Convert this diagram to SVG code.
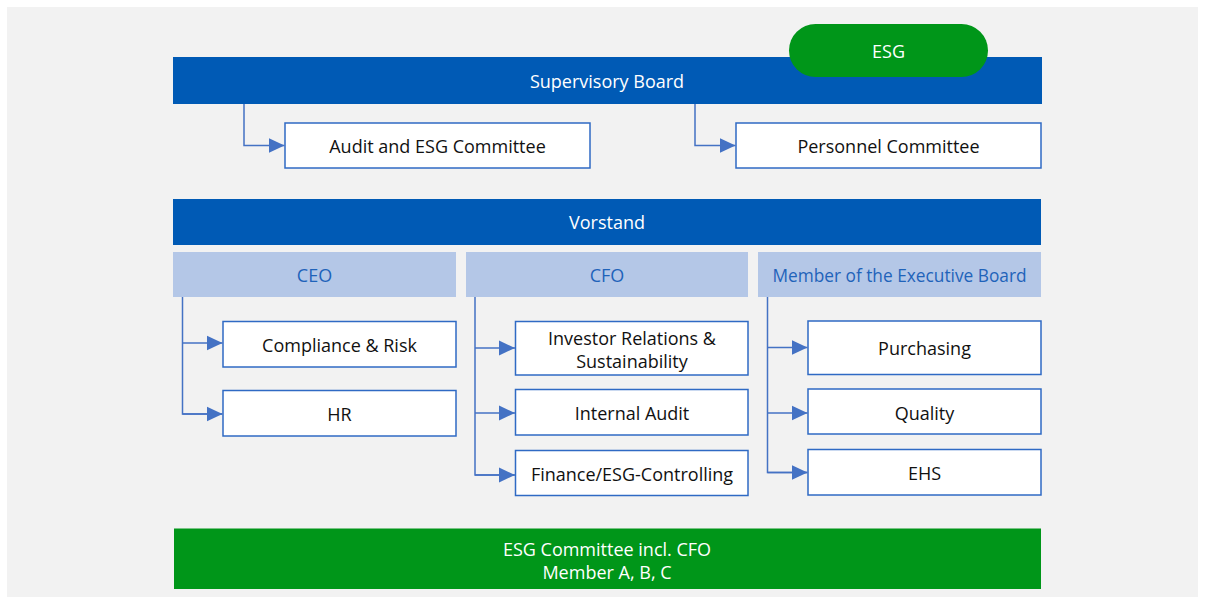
<svg xmlns="http://www.w3.org/2000/svg" width="1205" height="602" viewBox="0 0 1205 602">
  <style>
    text { font-family: "Open Sans", "Noto Sans", "Liberation Sans", sans-serif; font-size: 18px; text-anchor: middle; dominant-baseline: central; }
    .bar { fill: #005AB5; }
    .bar-t { fill: #ffffff; }
    .head { fill: #B4C7E7; }
    .head-t { fill: #1F63BA; }
    .unit { fill: #ffffff; stroke: #2F6AC4; stroke-width: 1.5; }
    .unit-t { fill: #111111; }
    .green { fill: #009619; }
    .conn { fill: none; stroke: #4472C4; stroke-width: 1.5; }
  </style>
  <defs>
    <marker id="arrow" viewBox="0 0 16 16" refX="16" refY="8" markerWidth="16" markerHeight="16" markerUnits="userSpaceOnUse" orient="auto">
      <path d="M0,0.5 L16,8 L0,15.5 z" fill="#4472C4"/>
    </marker>
  </defs>

  <rect x="7" y="7" width="1191" height="590" fill="#F2F2F2"/>

  <g id="supervisory-board">
    <rect class="bar" x="173" y="57" width="869" height="47"/>
    <text class="bar-t" x="607" y="81">Supervisory Board</text>
  </g>
  <g id="esg">
    <rect class="green" x="789" y="24" width="199" height="53" rx="26.5"/>
    <text class="bar-t" x="888.5" y="51">ESG</text>
  </g>
  <g id="audit-esg-committee">
    <rect class="unit" x="285" y="123" width="305" height="45"/>
    <text class="unit-t" x="437.5" y="145.5">Audit and ESG Committee</text>
  </g>
  <g id="personnel-committee">
    <rect class="unit" x="736" y="123" width="305" height="45"/>
    <text class="unit-t" x="888.5" y="145.5">Personnel Committee</text>
  </g>

  <g id="vorstand">
    <rect class="bar" x="173" y="199" width="868" height="46"/>
    <text class="bar-t" x="607" y="222">Vorstand</text>
  </g>

  <g id="ceo">
    <rect class="head" x="173" y="252" width="283" height="45"/>
    <text class="head-t" x="314.5" y="275">CEO</text>
  </g>
  <g id="cfo">
    <rect class="head" x="466" y="252" width="282" height="45"/>
    <text class="head-t" x="607" y="275">CFO</text>
  </g>
  <g id="board-member">
    <rect class="head" x="758" y="252" width="283" height="45"/>
    <text class="head-t" x="899.5" y="275" style="font-size:17.3px">Member of the Executive Board</text>
  </g>

  <g id="compliance-risk">
    <rect class="unit" x="223" y="321.5" width="233" height="45.5"/>
    <text class="unit-t" x="339.5" y="345">Compliance &amp; Risk</text>
  </g>
  <g id="hr">
    <rect class="unit" x="223" y="390.5" width="233" height="45.5"/>
    <text class="unit-t" x="339.5" y="414">HR</text>
  </g>

  <g id="investor-relations">
    <rect class="unit" x="515.5" y="321.5" width="232.5" height="53.5"/>
    <text class="unit-t" x="632" y="337.5">Investor Relations &amp;</text>
    <text class="unit-t" x="632" y="360.5">Sustainability</text>
  </g>
  <g id="internal-audit">
    <rect class="unit" x="515.5" y="389.5" width="232.5" height="45.5"/>
    <text class="unit-t" x="632" y="412.5">Internal Audit</text>
  </g>
  <g id="finance-controlling">
    <rect class="unit" x="515.5" y="450.5" width="232.5" height="45"/>
    <text class="unit-t" x="632" y="474">Finance/ESG-Controlling</text>
  </g>

  <g id="purchasing">
    <rect class="unit" x="808" y="321" width="233" height="53.5"/>
    <text class="unit-t" x="924.5" y="348">Purchasing</text>
  </g>
  <g id="quality">
    <rect class="unit" x="808" y="389" width="233" height="45"/>
    <text class="unit-t" x="924.5" y="412.5">Quality</text>
  </g>
  <g id="ehs">
    <rect class="unit" x="808" y="449.5" width="233" height="45.5"/>
    <text class="unit-t" x="924.5" y="473">EHS</text>
  </g>

  <g id="esg-committee">
    <rect class="green" x="174" y="528.5" width="867" height="60.5"/>
    <text class="bar-t" x="607" y="549">ESG Committee incl. CFO</text>
    <text class="bar-t" x="607" y="571.5">Member A, B, C</text>
  </g>

  <g id="connectors">
    <path class="conn" d="M244,104 V145.5 H284.5" marker-end="url(#arrow)"/>
    <path class="conn" d="M695,104 V145.5 H735.5" marker-end="url(#arrow)"/>
    <path class="conn" d="M182.5,297 V414 H222"/>
    <path class="conn" d="M182.5,343 H222.5" marker-end="url(#arrow)"/>
    <path class="conn" d="M182.5,414 H222.5" marker-end="url(#arrow)"/>
    <path class="conn" d="M475,297 V475 H514.5"/>
    <path class="conn" d="M475,348 H515" marker-end="url(#arrow)"/>
    <path class="conn" d="M475,413 H515" marker-end="url(#arrow)"/>
    <path class="conn" d="M475,475 H515" marker-end="url(#arrow)"/>
    <path class="conn" d="M767.5,297 V472.5 H807"/>
    <path class="conn" d="M767.5,347.5 H807.5" marker-end="url(#arrow)"/>
    <path class="conn" d="M767.5,413 H807.5" marker-end="url(#arrow)"/>
    <path class="conn" d="M767.5,472.5 H807.5" marker-end="url(#arrow)"/>
  </g>
</svg>
